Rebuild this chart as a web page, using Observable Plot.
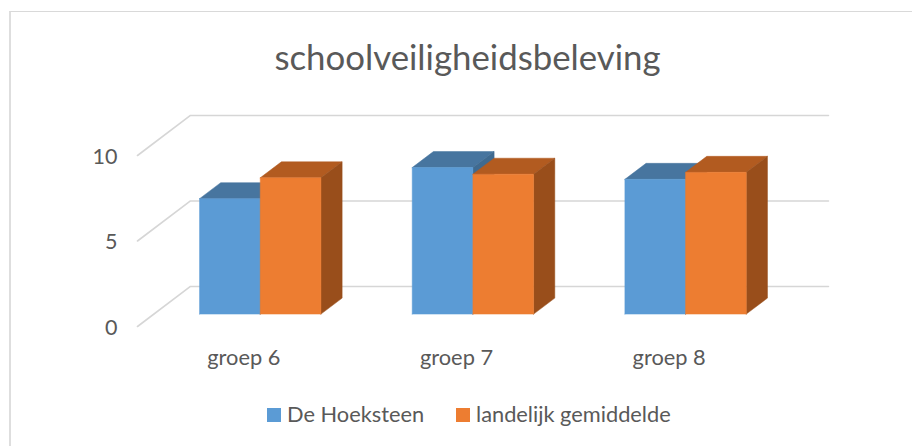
<!DOCTYPE html>
<html lang="nl">
<head>
<meta charset="utf-8">
<script src="https://cdn.jsdelivr.net/npm/d3@7"></script>
<script src="https://cdn.jsdelivr.net/npm/@observablehq/plot@0.6"></script>
<style>
html,body{margin:0;padding:0;background:#fff;}
body{width:912px;height:446px;overflow:hidden;font-family:"Lato",sans-serif;color:#595959;}
#frame{margin:11px 0 0 9px;width:901px;height:434px;border-top:1px solid #d9d9d9;border-left:2px solid #dedede;}
#title{height:83px;box-sizing:border-box;padding-top:23px;text-align:center;font-size:34.8px;line-height:44px;color:#595959;margin-left:12px;white-space:nowrap;}
#chart svg{display:block;}
#legend{position:relative;height:40px;font-size:21.8px;line-height:24px;color:#595959;}
#legend span.sw{position:absolute;top:23px;width:14px;height:14px;}
#legend span.tx{position:absolute;top:17px;white-space:nowrap;}
</style>
</head>
<body>
<div id="frame">
  <div id="title">schoolveiligheidsbeleving</div>
  <div id="chart"></div>
  <div id="legend"></div>
</div>
<script>
const categories = ["groep 6", "groep 7", "groep 8"];
const hoeksteen = [6.75, 8.57, 7.88];
const landelijk = [7.97, 8.18, 8.29];
const seriesNames = ["De Hoeksteen", "landelijk gemiddelde"];
const yTicks = [0, 5, 10];
const colors = {
  front: ["#5B9BD5", "#ED7D31"],
  top: ["#47759F", "#B25B20"],
  side: ["#3F6A90", "#994E1B"]
};

// Oblique projection of the 3D chart into the x (category) and y (value) scales
const depthX = 0.249, depthY = 2.34;
const zFront = 0.31, zBack = 0.71, barHalf = 0.2854;
const P = (x, v, z) => ({x: x + depthX * z, y: v + depthY * z});

const gridMarks = yTicks.map(v => Plot.line(
  [P(0, v, 0), P(0, v, 1), P(categories.length, v, 1)],
  {x: "x", y: "y", stroke: "#d6d6d6", strokeWidth: 1.6}
));

const face = (pts, fill) => Plot.line(pts, {x: "x", y: "y", fill, stroke: fill, strokeWidth: 0.5});

const barMarks = categories.flatMap((c, i) =>
  [hoeksteen[i], landelijk[i]].flatMap((v, s) => {
    const x1 = i + 0.5 + (s - 1) * barHalf, x2 = x1 + barHalf;
    return [
      face([P(x1, v, zFront), P(x2, v, zFront), P(x2, v, zBack), P(x1, v, zBack), P(x1, v, zFront)], colors.top[s]),
      face([P(x2, 0, zFront), P(x2, v, zFront), P(x2, v, zBack), P(x2, 0, zBack), P(x2, 0, zFront)], colors.side[s]),
      face([P(x1, 0, zFront), P(x2, 0, zFront), P(x2, v, zFront), P(x1, v, zFront), P(x1, 0, zFront)], colors.front[s])
    ];
  })
);

const chart = Plot.plot({
  width: 901,
  height: 290,
  marginLeft: 126,
  marginRight: 137,
  marginTop: 60,
  marginBottom: 59,
  style: {background: "transparent", overflow: "visible"},
  x: {domain: [0, categories.length]},
  y: {domain: [0, 10]},
  marks: [
    ...gridMarks,
    ...barMarks,
    Plot.axisY({
      ticks: yTicks, tickSize: 0, tickPadding: 20, label: null, dy: 1.5,
      fontSize: 21.5, fontFamily: "Lato", fill: "#595959"
    }),
    Plot.axisX({
      ticks: categories.map((c, i) => i + 0.5), tickFormat: (d) => categories[Math.floor(d)],
      tickSize: 0, tickPadding: 23, label: null,
      fontSize: 21.8, fontFamily: "Lato", fill: "#595959"
    })
  ]
});
document.getElementById("chart").append(chart);

const legend = document.getElementById("legend");
const legendX = [256, 445];
seriesNames.forEach((name, s) => {
  const sw = document.createElement("span");
  sw.className = "sw";
  sw.style.left = legendX[s] + "px";
  sw.style.background = colors.front[s];
  const tx = document.createElement("span");
  tx.className = "tx";
  tx.style.left = (legendX[s] + 20) + "px";
  tx.textContent = name;
  legend.append(sw, tx);
});
</script>
</body>
</html>
